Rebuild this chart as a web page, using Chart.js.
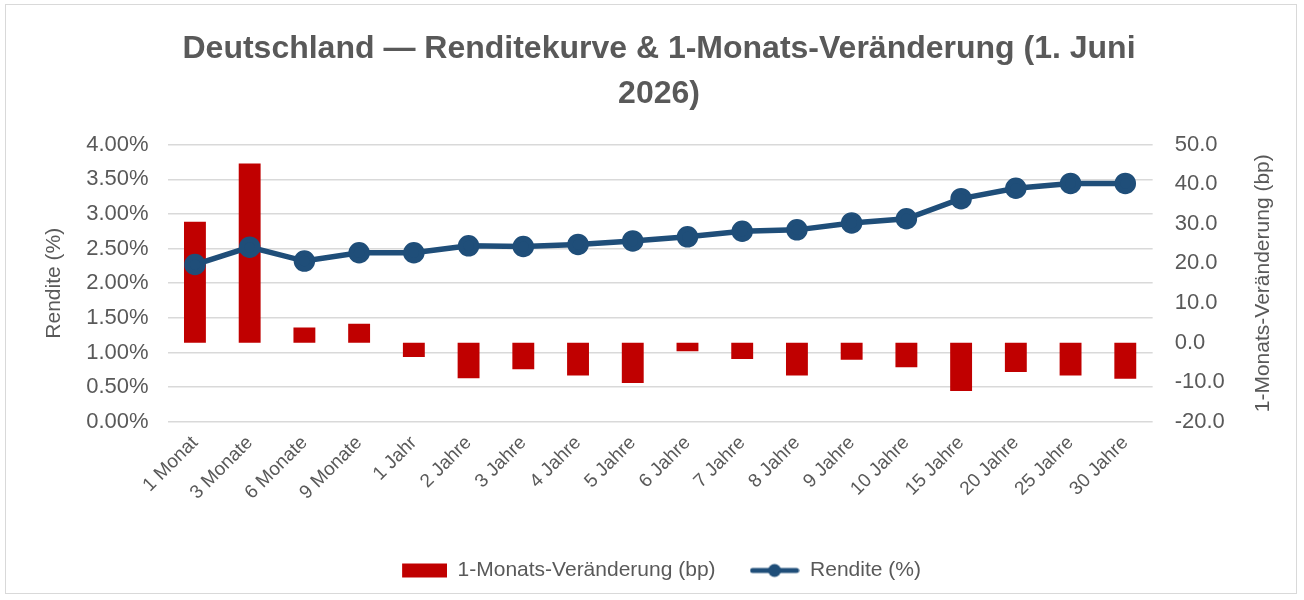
<!DOCTYPE html>
<html lang="de">
<head>
  <meta charset="UTF-8">
  <title>Deutschland Renditekurve</title>
  <script src="https://cdn.jsdelivr.net/npm/chart.js"></script>
  <style>
    html, body { margin: 0; padding: 0; background: #fff; }
    /* Rahmen wie im Excel-Diagramm */
    .chart-box {
      position: absolute;
      left: 5px; top: 4px;
      width: 1292px; height: 590px;
      border: 1px solid #d9d9d9;
      box-sizing: border-box;
    }
  </style>
</head>
<body>
  <div class="chart-box"><canvas id="kurve"></canvas></div>

<script>
  const laufzeiten = ['1 Monat', '3 Monate', '6 Monate', '9 Monate', '1 Jahr', '2 Jahre', '3 Jahre',
    '4 Jahre', '5 Jahre', '6 Jahre', '7 Jahre', '8 Jahre', '9 Jahre', '10 Jahre', '15 Jahre',
    '20 Jahre', '25 Jahre', '30 Jahre'];
  const rendite = [2.27, 2.52, 2.32, 2.44, 2.44, 2.54, 2.53, 2.56, 2.61, 2.67, 2.75, 2.77,
    2.87, 2.93, 3.22, 3.37, 3.44, 3.44];
  const veraenderung = [30.5, 45.2, 3.8, 4.8, -3.6, -9.0, -6.7, -8.3, -10.2, -2.2, -4.1, -8.3,
    -4.3, -6.2, -12.2, -7.4, -8.3, -9.1];
  const titelZeilen = ['Deutschland — Renditekurve & 1-Monats-Veränderung (1. Juni', '2026)'];
  const titelRechts = '1-Monats-Veränderung (bp)';

  const grau = '#595959';
  const rot = '#C00000';
  const blau = '#1F4E79';
  const schrift = '"Liberation Sans", Arial, sans-serif';

  // Legenden-Symbole wie in Excel (Balken / Linie mit Punkt)
  function symbol(w, h, draw) {
    const c = document.createElement('canvas');
    c.width = w; c.height = h;
    draw(c.getContext('2d'));
    return c;
  }
  const symBalken = symbol(50, 16, g => { g.fillStyle = rot; g.fillRect(5, 1, 45, 14); });
  const symLinie = symbol(50, 16, g => {
    g.strokeStyle = blau; g.lineWidth = 5; g.lineCap = 'round';
    g.beginPath(); g.moveTo(3, 8); g.lineTo(47, 8); g.stroke();
    g.fillStyle = blau; g.beginPath(); g.arc(25, 8, 6.5, 0, Math.PI * 2); g.fill();
  });

  // rechte Achsenbeschriftung von unten nach oben lesen (wie links)
  const rechterTitel = {
    id: 'rechterTitel',
    afterDraw(chart) {
      const s = chart.scales.yRechts;
      const g = chart.ctx;
      g.save();
      g.font = '21px ' + schrift;
      g.fillStyle = grau;
      g.textAlign = 'center';
      g.textBaseline = 'middle';
      g.translate(s.right - 17, (s.top + s.bottom) / 2);
      g.rotate(-Math.PI / 2);
      g.fillText(titelRechts, 0, 0);
      g.restore();
    }
  };

  Chart.defaults.font.family = schrift;
  Chart.defaults.color = grau;

  new Chart(document.getElementById('kurve'), {
    data: {
      labels: laufzeiten,
      datasets: [
        {
          type: 'bar',
          label: '1-Monats-Veränderung (bp)',
          data: veraenderung,
          backgroundColor: rot,
          yAxisID: 'yRechts',
          categoryPercentage: 1,
          barPercentage: 0.4,
          order: 2
        },
        {
          type: 'line',
          label: 'Rendite (%)',
          data: rendite,
          borderColor: blau,
          backgroundColor: blau,
          borderWidth: 5.5,
          pointRadius: 8,
          pointHoverRadius: 8,
          tension: 0,
          yAxisID: 'yLinks',
          order: 1
        }
      ]
    },
    options: {
      responsive: true,
      maintainAspectRatio: false,
      animation: false,
      layout: { padding: { left: 32, right: 16, top: 0, bottom: 2 } },
      plugins: {
        title: {
          display: true,
          text: titelZeilen,
          color: grau,
          font: { size: 32, weight: 'bold', lineHeight: 1.4 },
          padding: { top: 22, bottom: 28 }
        },
        legend: {
          position: 'bottom',
          // leerer Titel = Abstand zwischen Achsenbeschriftung und Legende
          title: { display: true, text: ' ', font: { size: 10 }, padding: { top: 4, bottom: 4 } },
          labels: {
            usePointStyle: true,
            pointStyleWidth: 50,
            boxHeight: 16,
            padding: 34,
            color: grau,
            font: { size: 21 },
            generateLabels: chart => chart.data.datasets.map((ds, i) => ({
              text: ds.label,
              datasetIndex: i,
              pointStyle: i === 0 ? symBalken : symLinie,
              fontColor: grau,
              hidden: false
            }))
          }
        },
        tooltip: { enabled: false }
      },
      scales: {
        x: {
          grid: { display: false },
          border: { display: false },
          ticks: { maxRotation: 45, minRotation: 45, color: grau, font: { size: 19 }, padding: 2 }
        },
        yLinks: {
          position: 'left',
          min: 0, max: 4,
          ticks: {
            stepSize: 0.5, color: grau, font: { size: 22 }, padding: 19,
            callback: v => v.toFixed(2) + '%'
          },
          grid: { color: '#d9d9d9', lineWidth: 1.5, drawTicks: false },
          border: { display: false },
          title: { display: true, text: 'Rendite (%)', color: grau, font: { size: 21 }, padding: { top: 4, bottom: 0 } }
        },
        yRechts: {
          position: 'right',
          min: -20, max: 50,
          ticks: {
            stepSize: 10, color: grau, font: { size: 22 }, padding: 22,
            callback: v => v.toFixed(1)
          },
          grid: { display: false, drawTicks: false },
          border: { display: false },
          // Platz reservieren, Text zeichnet das Plugin
          title: { display: true, text: titelRechts, color: 'rgba(0,0,0,0)', font: { size: 21 } }
        }
      }
    },
    plugins: [rechterTitel]
  });
</script>
</body>
</html>
